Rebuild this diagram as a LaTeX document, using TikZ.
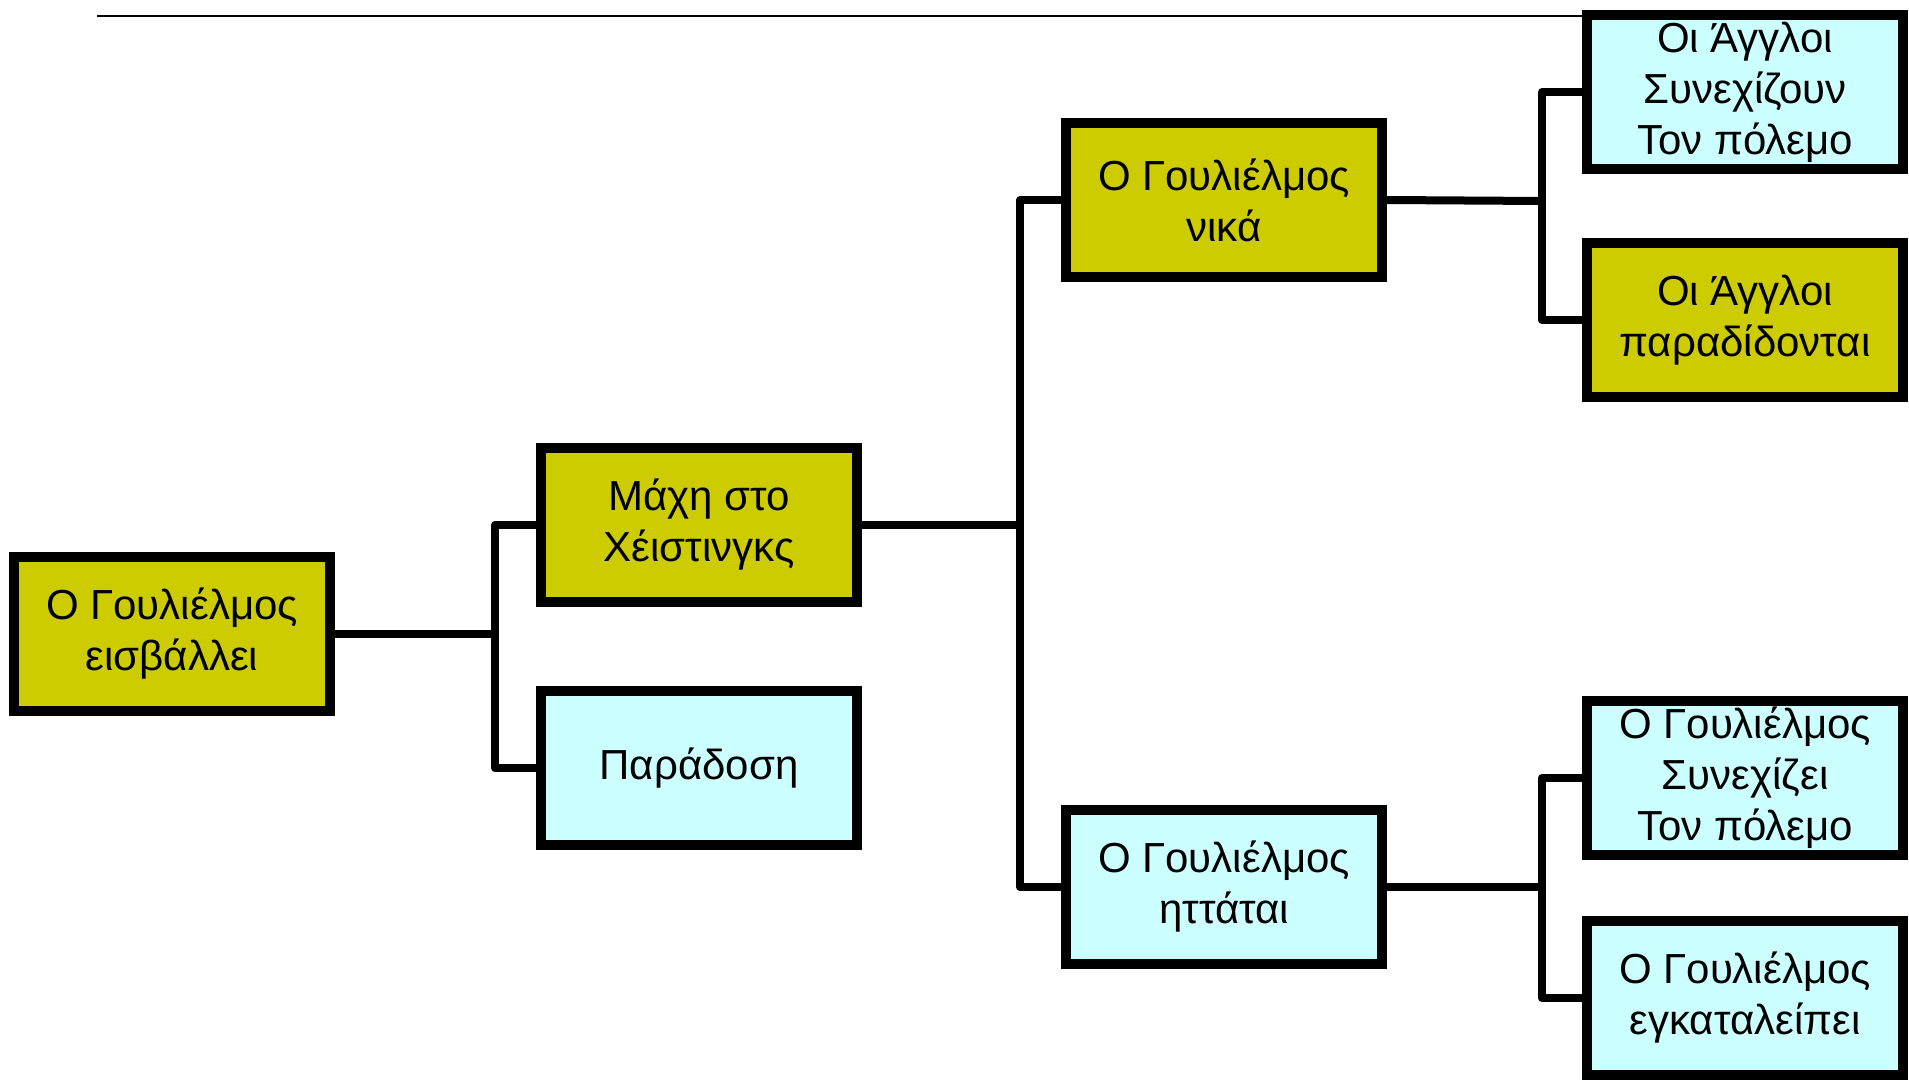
\documentclass[tikz,border=0pt]{standalone}
\usepackage{fontspec}
\setmainfont{Liberation Sans}
\definecolor{olive}{RGB}{204,204,0}
\definecolor{pale}{RGB}{204,255,255}
\begin{document}
\begin{tikzpicture}[x=0.5pt,y=-0.5pt,
        box/.style={draw, line width=5pt, minimum width=158pt, minimum height=77pt,
          align=center, inner sep=0pt, font=\fontsize{21}{25.5}\selectfont},
        win/.style={box, fill=olive},
        lose/.style={box, fill=pale},
        link/.style={line width=4pt, line join=round}]
        \useasboundingbox (0,0) rectangle (1909,1086);

        \node [win] (invade) at (172,634) {Ο Γουλιέλμος\\εισβάλλει};

        \node [win] (battle) at (699,525) {Μάχη στο\\Χέιστινγκς};
        \node [lose] (yield) at (699,768) {Παράδοση};

        \node [win] (wins) at (1224,200) {Ο Γουλιέλμος\\νικά};
        \node [lose] (loses) at (1224,887) {Ο Γουλιέλμος\\ηττάται};

        \node [lose] (engfight) at (1745,92) {Οι Άγγλοι\\Συνεχίζουν\\Τον πόλεμο};
        \node [win] (engyield) at (1745,320) {Οι Άγγλοι\\παραδίδονται};
        \node [lose] (wilfight) at (1745,778) {Ο Γουλιέλμος\\Συνεχίζει\\Τον πόλεμο};
        \node [lose] (wilquit) at (1745,998) {Ο Γουλιέλμος\\εγκαταλείπει};

        \coordinate (rule) at (97,16);
        \draw [line width=0.8pt] (rule) -- (rule -| engfight.west);

        \coordinate (j1) at (495,634);
        \coordinate (j2) at (1020,525);
        \coordinate (j3) at (1542,201);
        \coordinate (j4) at (1542,887);

        \draw [link] (invade.east) -- (j1);
        \draw [link] (battle.west) -| (j1) |- (yield.west);

        \draw [link] (battle.east) -- (j2);
        \draw [link] (wins.west) -| (j2) |- (loses.west);

        \draw [link] (wins.east) -- (j3);
        \draw [link] (engfight.west) -| (j3) |- (engyield.west);

        \draw [link] (loses.east) -- (j4);
        \draw [link] (wilfight.west) -| (j4) |- (wilquit.west);
      \end{tikzpicture}
\end{document}
